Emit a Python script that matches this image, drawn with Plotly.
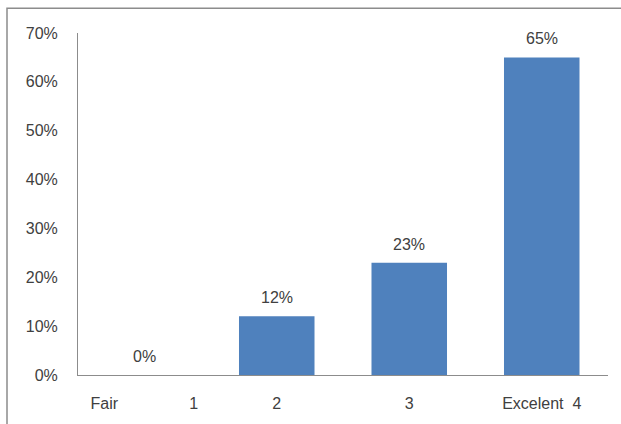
import plotly.graph_objects as go

NB = "\u00a0"
categories = ["c1", "c2", "c3", "c4"]
tick_labels = ["Fair" + NB * 16 + "1", "2", "3", "Excelent" + NB * 2 + "4"]
values = [0.0, 0.12, 0.23, 0.65]
value_labels = ["0%", "12%", "23%", "65%"]
y_ticks = [0, 0.1, 0.2, 0.3, 0.4, 0.5, 0.6, 0.7]

W, H = 621, 424
ML, MR, MT, MB = 78, 13, 33, 47
pw, ph = W - ML - MR, H - MT - MB

font = dict(family="Liberation Sans, Arial", size=16, color="#404040")

fig = go.Figure(go.Bar(
    x=categories, y=values,
    marker=dict(color="#4f81bd", line=dict(width=0)),
    width=0.57,
))

# value labels above each bar
for c, v, t in zip(categories, values, value_labels):
    fig.add_annotation(x=c, y=v, text=t, showarrow=False, yanchor="bottom",
                       yshift=8, font=font)

# outer frame around the chart area
fig.add_shape(type="rect", xref="paper", yref="paper",
              x0=(7 - ML) / pw, x1=(W + 20 - ML) / pw,
              y0=-(MB + 20) / ph, y1=1 + (MT - 8) / ph,
              line=dict(color="#8c8c8c", width=1.5), layer="below")

fig.update_layout(
    width=W, height=H,
    margin=dict(l=ML, r=MR, t=MT, b=MB),
    paper_bgcolor="white", plot_bgcolor="white",
    showlegend=False,
    font=font,
    xaxis=dict(tickvals=categories, ticktext=tick_labels, showline=True,
               linecolor="#8c8c8c", linewidth=1, showgrid=False, ticks="",
               range=[-0.5, 3.5], tickfont=font, ticklabelstandoff=14),
    yaxis=dict(range=[0, 0.7], tickvals=y_ticks, tickformat=".0%", showline=True,
               linecolor="#8c8c8c", linewidth=1, showgrid=False, ticks="",
               zeroline=False, tickfont=font, ticklabelstandoff=16),
)

fig.write_html("out.html")
